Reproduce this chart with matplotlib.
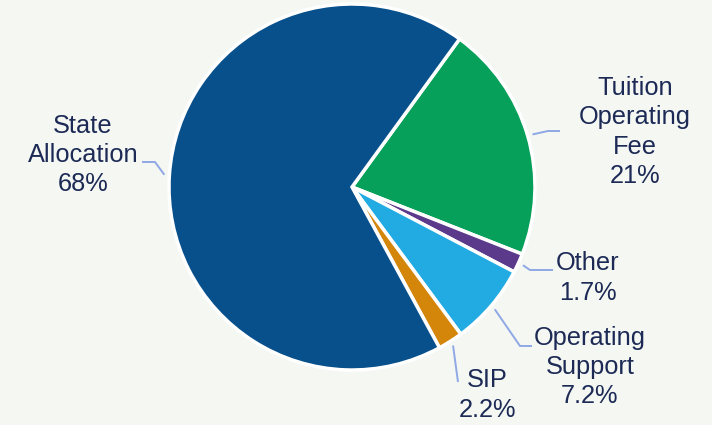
import numpy as np
import matplotlib.pyplot as plt

# Revenue shares (%)
categories = ['Tuition\nOperating\nFee', 'Other', 'Operating\nSupport', 'SIP', 'State\nAllocation']
values = [21, 1.7, 7.2, 2.2, 68]
pct_labels = ['21%', '1.7%', '7.2%', '2.2%', '68%']
colors = ['#06a05a', '#5b3a8c', '#22abe2', '#d4860b', '#07508c']

# label layout (pixel coords, y up)
label_pos = [(635, 293), (588, 147), (590, 58), (487, 30), (83, 270)]
leader_pts = [[(548, 294), (560, 294)],
              [(530, 155), (553, 155)],
              [(520, 79), (532, 79)],
              [(458, 43)],
              [(155, 263), (142, 263)]]

bg = '#f5f7f3'
text_color = '#1c2a55'
line_color = '#8fa8e6'

fig = plt.figure(figsize=(7.12, 4.25), dpi=100, facecolor=bg)
ax = fig.add_axes([0, 0, 1, 1])
ax.set_facecolor(bg)

cx, cy, r = 352, 238, 183
start = 54
wedges, _ = ax.pie(values, colors=colors, startangle=start, counterclock=False,
                   center=(cx, cy), radius=r,
                   wedgeprops=dict(edgecolor='white', linewidth=2.5))

for w, cat, pct, pos, pts in zip(wedges, categories, pct_labels, label_pos, leader_pts):
    mid = np.deg2rad((w.theta1 + w.theta2) / 2)
    x0 = cx + (r + 5) * np.cos(mid)
    y0 = cy + (r + 5) * np.sin(mid)
    xs = [x0] + [p[0] for p in pts]
    ys = [y0] + [p[1] for p in pts]
    ax.plot(xs, ys, color=line_color, lw=1.4, solid_capstyle='butt')
    ax.text(pos[0], pos[1], cat + '\n' + pct, ha='center', va='center',
            fontsize=18.3, color=text_color, family='Liberation Sans',
            linespacing=1.27)

ax.set_xlim(0, 712)
ax.set_ylim(0, 425)
ax.set_aspect('equal')
ax.axis('off')

fig.savefig('out.png', dpi=100, facecolor=bg)
